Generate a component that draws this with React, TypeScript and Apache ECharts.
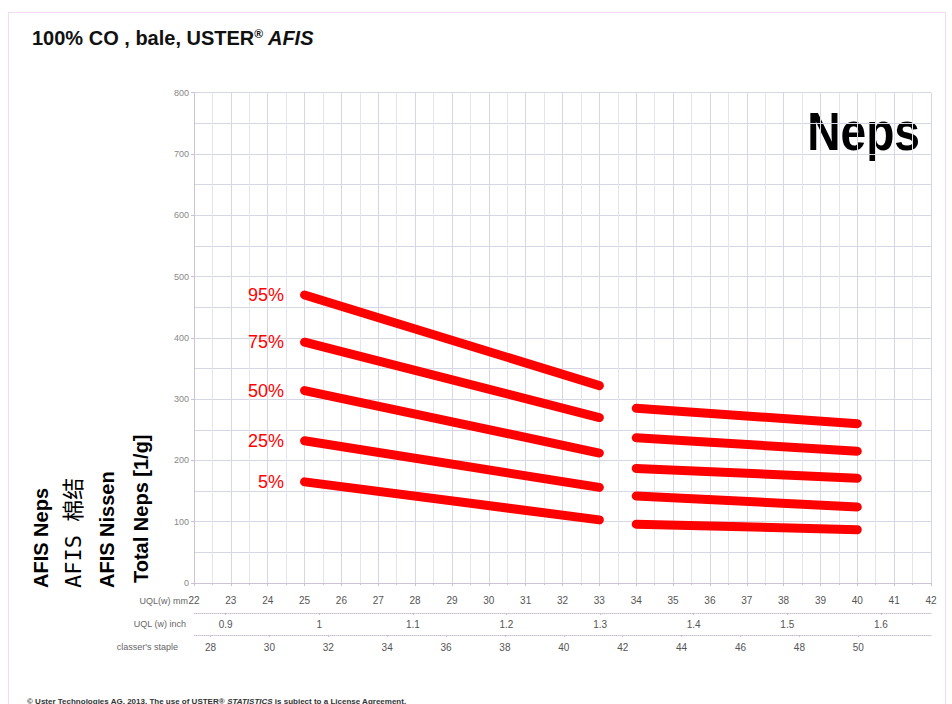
import React, { useEffect, useRef } from 'react';
import * as echarts from 'echarts';

const FONT = "'Liberation Sans', Arial, sans-serif";

// Data
const percentiles = ['95%', '75%', '50%', '25%', '5%'];
const segment1X = [25, 33];
const segment2X = [34, 40];
const seg1Start = [470, 393, 314, 232, 165];
const seg1End = [322, 270, 212, 156, 103];
const seg2Start = [285, 237, 187, 142, 96];
const seg2End = [260, 215, 171, 124, 87];

const mmMin = 22;
const mmMax = 42;
const yMax = 800;
const yInterval = 100;
const inchTicks = [0.9, 1.0, 1.1, 1.2, 1.3, 1.4, 1.5, 1.6];
const stapleTicks = [28, 30, 32, 34, 36, 38, 40, 42, 44, 46, 48, 50];
const stapleMin = 27.44;
const stapleMax = 52.47;

const RED = '#ff0000';
const GRID_MAJOR = '#d6d7e4';
const GRID_MINOR = '#e3e4ee';
const AXIS_LINE = '#cbbfd3';

export default function App() {
  const ref = useRef<HTMLDivElement>(null);

  useEffect(() => {
    document.body.style.margin = '0';
    if (!ref.current) return;
    const chart = echarts.init(ref.current, undefined, { renderer: 'svg' });

    const series: any[] = [];
    percentiles.forEach((p, i) => {
      const common = {
        type: 'line',
        xAxisIndex: 0,
        yAxisIndex: 0,
        symbol: 'circle',
        symbolSize: 1,
        itemStyle: { color: RED },
        lineStyle: { color: RED, width: 9, cap: 'round' },
        silent: true,
        z: 5,
      };
      series.push({
        ...common,
        name: p + ' A',
        data: [
          {
            value: [segment1X[0], seg1Start[i]],
            label: {
              show: true,
              position: 'left',
              distance: 20,
              formatter: p,
              color: RED,
              fontSize: 18,
              fontFamily: FONT,
            },
          },
          [segment1X[1], seg1End[i]],
        ],
      });
      series.push({
        ...common,
        name: p + ' B',
        data: [
          [segment2X[0], seg2Start[i]],
          [segment2X[1], seg2End[i]],
        ],
      });
    });

    const smallLabel = { fontSize: 10, color: '#555', fontFamily: FONT };

    chart.setOption({
      animation: false,
      backgroundColor: '#ffffff',
      grid: { left: 194, top: 92.7, width: 737, height: 490.3 },
      xAxis: [
        {
          type: 'value',
          min: mmMin,
          max: mmMax,
          interval: 1,
          position: 'bottom',
          axisLine: { show: true, lineStyle: { color: AXIS_LINE, type: 'dotted' } },
          axisTick: { show: true, length: 3, lineStyle: { color: AXIS_LINE } },
          minorTick: { show: true, splitNumber: 2, length: 2, lineStyle: { color: AXIS_LINE } },
          axisLabel: { ...smallLabel, margin: 12 },
          splitLine: { show: true, lineStyle: { color: GRID_MAJOR, width: 1 } },
          minorSplitLine: { show: true, lineStyle: { color: GRID_MINOR, width: 1 } },
        },
        {
          type: 'value',
          min: mmMin / 25.4,
          max: mmMax / 25.4,
          position: 'bottom',
          offset: 30,
          axisLine: { show: true, onZero: false, lineStyle: { color: AXIS_LINE, type: 'dotted' } },
          axisTick: { show: true, length: 2, customValues: inchTicks, lineStyle: { color: AXIS_LINE } },
          axisLabel: {
            ...smallLabel,
            margin: 6,
            customValues: inchTicks,
            formatter: (v: number) => String(Math.round(v * 10) / 10),
          },
          splitLine: { show: false },
        },
        {
          type: 'value',
          min: stapleMin,
          max: stapleMax,
          position: 'bottom',
          offset: 52,
          axisLine: { show: true, onZero: false, lineStyle: { color: AXIS_LINE, type: 'dotted' } },
          axisTick: { show: true, length: 2, customValues: stapleTicks, lineStyle: { color: AXIS_LINE } },
          axisLabel: {
            ...smallLabel,
            margin: 7,
            customValues: stapleTicks,
            formatter: (v: number) => String(Math.round(v)),
          },
          splitLine: { show: false },
        },
      ],
      yAxis: {
        type: 'value',
        min: 0,
        max: yMax,
        interval: yInterval,
        axisLine: { show: true, lineStyle: { color: AXIS_LINE, type: 'dotted' } },
        axisTick: { show: true, length: 3, lineStyle: { color: AXIS_LINE } },
        axisLabel: { fontSize: 9, color: '#888', fontFamily: FONT, margin: 5 },
        splitLine: { show: true, lineStyle: { color: GRID_MAJOR, width: 1 } },
        minorTick: { show: false, splitNumber: 2 },
        minorSplitLine: { show: true, lineStyle: { color: GRID_MAJOR, width: 1 } },
      },
      series,
      graphic: [
        {
          type: 'rect',
          shape: { x: 8.5, y: 12.5, width: 937, height: 710 },
          style: { fill: 'none', stroke: '#e6b8e6', lineWidth: 1, lineDash: [1, 1] },
          silent: true,
        },
        {
          type: 'text',
          x: 32,
          y: 38,
          style: {
            text: '{a|100% CO , bale, USTER}{s|®}{i| AFIS}',
            verticalAlign: 'middle',
            rich: {
              a: { fontSize: 20, fontWeight: 'bold', fontFamily: FONT, fill: '#111' },
              s: { fontSize: 12, fontWeight: 'bold', fontFamily: FONT, fill: '#111', verticalAlign: 'top', padding: [0, 0, 8, 0] },
              i: { fontSize: 20, fontWeight: 'bold', fontStyle: 'italic', fontFamily: FONT, fill: '#111' },
            },
          },
        },
        {
          type: 'text',
          x: 920,
          y: 132,
          scaleX: 0.87,
          silent: true,
          style: {
            text: 'Neps',
            align: 'right',
            verticalAlign: 'middle',
            fontSize: 53,
            fontWeight: 'bold',
            fontFamily: "'Liberation Sans'",
            fill: '#000',
            stroke: 'none',
            lineWidth: 0,
          },
        },
        {
          type: 'text',
          x: 41,
          y: 588,
          rotation: Math.PI / 2,
          style: { text: 'AFIS Neps', align: 'left', verticalAlign: 'middle', fontSize: 20, fontWeight: 'bold', fontFamily: FONT, fill: '#000' },
        },
        {
          type: 'text',
          x: 73,
          y: 588,
          rotation: Math.PI / 2,
          style: { text: 'AFIS 棉结', align: 'left', verticalAlign: 'middle', fontSize: 22, fontFamily: "'DejaVu Sans Mono', 'Noto Sans CJK SC', monospace", fill: '#000' },
        },
        {
          type: 'text',
          x: 107,
          y: 588,
          rotation: Math.PI / 2,
          style: { text: 'AFIS Nissen', align: 'left', verticalAlign: 'middle', fontSize: 20, fontWeight: 'bold', fontFamily: FONT, fill: '#000' },
        },
        {
          type: 'text',
          x: 141,
          y: 583,
          rotation: Math.PI / 2,
          style: { text: 'Total Neps [1/g]', align: 'left', verticalAlign: 'middle', fontSize: 20, fontWeight: 'bold', fontFamily: FONT, fill: '#000' },
        },
        {
          type: 'text',
          x: 188,
          y: 601,
          style: { text: 'UQL(w) mm', align: 'right', verticalAlign: 'middle', fontSize: 9, fontFamily: FONT, fill: '#666' },
        },
        {
          type: 'text',
          x: 186,
          y: 624,
          style: { text: 'UQL (w) inch', align: 'right', verticalAlign: 'middle', fontSize: 9, fontFamily: FONT, fill: '#666' },
        },
        {
          type: 'text',
          x: 178,
          y: 647,
          style: { text: "classer's staple", align: 'right', verticalAlign: 'middle', fontSize: 9, fontFamily: FONT, fill: '#666' },
        },
        {
          type: 'text',
          x: 27,
          y: 701,
          style: {
            text: '{a|© Uster Technologies AG, 2013. The use of USTER® }{i|STATISTICS}{a| is subject to a License Agreement.}',
            verticalAlign: 'middle',
            rich: {
              a: { fontSize: 8, fontWeight: 'bold', fontFamily: FONT, fill: '#333' },
              i: { fontSize: 8, fontWeight: 'bold', fontStyle: 'italic', fontFamily: FONT, fill: '#333' },
            },
          },
        },
      ],
    });

    return () => chart.dispose();
  }, []);

  return (
    <div
      ref={ref}
      style={{ position: 'fixed', left: 0, top: 0, width: 952, height: 704 }}
    />
  );
}
